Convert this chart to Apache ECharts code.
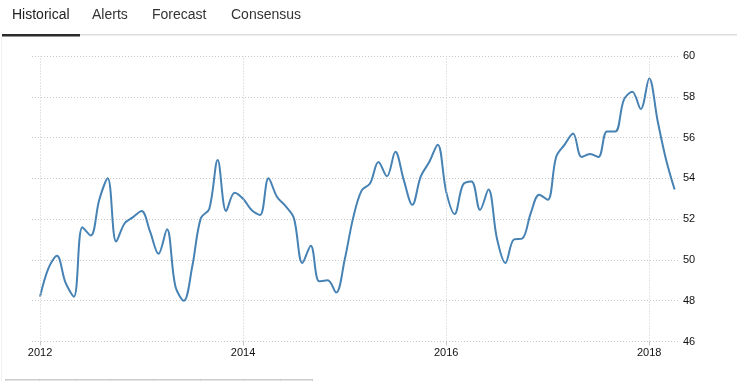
<!DOCTYPE html>
<html><head><meta charset="utf-8">
<script src="https://cdn.jsdelivr.net/npm/echarts@6/dist/echarts.min.js"></script>
<style>html,body{margin:0;padding:0;background:#fff}#c{width:737px;height:381px}</style>
</head><body><div id="c"></div>
<script>
// Monthly values, Jan 2012 .. Apr 2018
const startYear = 2012;
const values = [
  48.2, 49.6, 50.2, 48.9, 48.2, 51.6, 51.2, 52.95, 54.0, 50.9, 51.8, 52.1,
  52.4, 51.4, 50.3, 51.5, 48.7, 48.0, 49.7, 52.05, 52.5, 54.9, 52.4, 53.3,
  53.0, 52.45, 52.2, 54.0, 53.1, 52.65, 52.05, 49.85, 50.7, 48.95, 49.0, 48.4,
  50.0, 52.05, 53.4, 53.75, 54.8, 54.1, 55.3, 53.9, 52.7, 54.1, 54.8, 55.65,
  53.35, 52.25, 53.7, 53.85, 52.45, 53.45, 51.05, 49.85, 51.0, 51.05, 52.3, 53.2,
  52.95, 55.05, 55.65, 56.2, 55.05, 55.2, 55.05, 56.3, 56.3, 57.85, 58.25, 57.4,
  58.9, 56.8, 54.9, 53.45
];
const yearTicks = [2012, 2014, 2016, 2018];
const yTicks = [46, 48, 50, 52, 54, 56, 58, 60];
const tabs = ['Historical', 'Alerts', 'Forecast', 'Consensus'];

const seriesData = values.map((v, i) => [i, v]);
const yearPos = yearTicks.map(y => (y - startYear) * 12);

const chart = echarts.init(document.getElementById('c'), null, {renderer: 'canvas'});
const tabX = [12, 92, 152, 231];
const gridColor = '#c8c8c8';
const bottomCells = [5, 39, 75, 110, 153, 200, 244, 280, 312];

chart.setOption({
  animation: false,
  grid: {left: 32, right: 59, top: 56, bottom: 39.5, containLabel: false},
  xAxis: {
    type: 'value', min: -0.95, max: 75.4,
    axisLine: {show: false},
    axisTick: {show: true, customValues: yearPos, length: 4, lineStyle: {color: gridColor}},
    splitLine: {show: false},
    axisLabel: {
      customValues: yearPos, margin: 6,
      formatter: v => String(startYear + Math.round(v / 12)),
      color: '#111', fontSize: 11, fontFamily: 'Liberation Sans, Arial, sans-serif'
    }
  },
  yAxis: {
    type: 'value', position: 'right', min: 46, max: 60, interval: 2,
    axisLine: {show: false}, axisTick: {show: false},
    axisLabel: {margin: 5, color: '#111', fontSize: 11, fontFamily: 'Liberation Sans, Arial, sans-serif'},
    splitLine: {show: true, lineStyle: {color: gridColor, type: [1, 2], width: 1}}
  },
  series: [{
    type: 'line', data: seriesData, smooth: 0.35, symbol: 'none',
    lineStyle: {color: '#4682b4', width: 2},
    z: 3,
    markLine: {
      silent: true, symbol: 'none', label: {show: false},
      lineStyle: {color: gridColor, type: [1, 2], width: 1},
      data: yearPos.map(p => ({xAxis: p}))
    }
  }],
  graphic: [].concat(
    tabs.map((t, i) => ({
      type: 'text', left: tabX[i], top: 8,
      style: {text: t, fontSize: 14, fill: i === 0 ? '#222' : '#333', fontFamily: 'Liberation Sans, Arial, sans-serif'}
    })),
    [
      {type: 'rect', shape: {x: 80, y: 34, width: 657, height: 1.5}, style: {fill: '#dddddd'}},
      {type: 'rect', shape: {x: 2, y: 34, width: 78, height: 2.5}, style: {fill: '#2b2b2b'}},
      {type: 'rect', shape: {x: 1, y: 36, width: 1, height: 345}, style: {fill: '#f0f0f0'}},
      {type: 'rect', shape: {x: 5, y: 379, width: 307, height: 1.5}, style: {fill: '#cccccc'}}
    ],
    bottomCells.map(x => ({type: 'rect', shape: {x: x, y: 379, width: 1, height: 2}, style: {fill: '#cccccc'}}))
  )
});
</script>
</body></html>
